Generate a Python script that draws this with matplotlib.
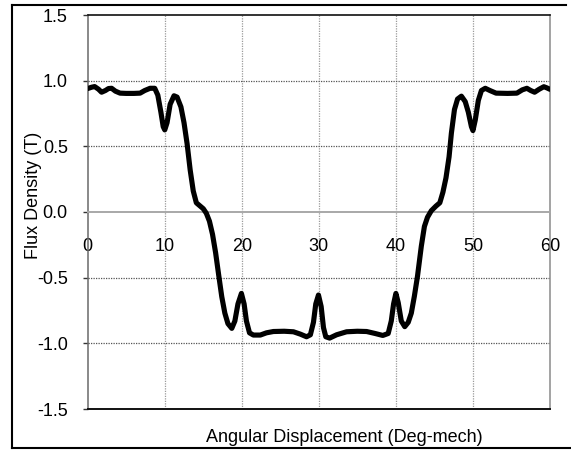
import matplotlib
matplotlib.use("Agg")
import matplotlib.pyplot as plt
from matplotlib.lines import Line2D

plt.rcParams['font.family'] = ['Liberation Sans', 'DejaVu Sans']

angle_deg = [0.0, 0.5, 0.9, 1.4, 1.8, 2.3, 2.7, 3.1, 3.6, 4.2, 5.0, 6.0, 6.8, 7.4, 8.1, 8.7,
             9.1, 9.5, 9.8, 10.0, 10.3, 10.7, 11.2, 11.6, 12.1, 12.5, 12.9, 13.3, 13.7, 14.1,
             14.6, 15.0, 15.4, 15.8, 16.2, 16.6, 17.0, 17.4, 17.8, 18.2, 18.7, 19.1, 19.5,
             19.95, 20.3, 20.6, 21.0, 21.5, 22.4, 23.2, 24.1, 25.5, 26.7, 27.6, 28.4, 28.9,
             29.3, 29.6, 29.95, 30.3, 30.6, 30.9, 31.4, 32.3, 33.6, 35.0, 36.2, 37.3, 38.3,
             39.0, 39.4, 39.7, 40.0, 40.3, 40.7, 41.15, 41.6, 42.0, 42.4, 42.8, 43.3, 43.7,
             44.1, 44.6, 45.2, 45.7, 46.1, 46.5, 46.9, 47.2, 47.6, 48.0, 48.5, 49.0, 49.4,
             49.8, 50.0, 50.3, 50.7, 51.1, 51.6, 52.2, 53.0, 54.5, 55.7, 56.4, 57.0, 57.5,
             58.0, 58.6, 59.2, 59.6, 60.0]
flux_T = [0.940, 0.950, 0.955, 0.935, 0.912, 0.925, 0.940, 0.942, 0.920, 0.905, 0.903, 0.903,
          0.905, 0.925, 0.942, 0.942, 0.890, 0.760, 0.650, 0.625, 0.680, 0.820, 0.885, 0.875,
          0.800, 0.680, 0.520, 0.320, 0.160, 0.070, 0.045, 0.025, -0.010, -0.070, -0.170,
          -0.310, -0.480, -0.645, -0.770, -0.850, -0.886, -0.830, -0.700, -0.620, -0.700,
          -0.830, -0.920, -0.937, -0.937, -0.920, -0.910, -0.908, -0.912, -0.930, -0.950,
          -0.935, -0.840, -0.700, -0.632, -0.720, -0.880, -0.950, -0.960, -0.935, -0.912,
          -0.908, -0.910, -0.925, -0.940, -0.925, -0.830, -0.700, -0.620, -0.690, -0.830,
          -0.873, -0.840, -0.770, -0.640, -0.490, -0.260, -0.110, -0.040, 0.010, 0.045, 0.070,
          0.150, 0.260, 0.420, 0.600, 0.780, 0.860, 0.882, 0.840, 0.760, 0.650, 0.620, 0.700,
          0.850, 0.925, 0.942, 0.925, 0.905, 0.903, 0.905, 0.930, 0.942, 0.925, 0.912, 0.935,
          0.954, 0.945, 0.934]

x_ticks = [0, 10, 20, 30, 40, 50, 60]
y_ticks = [-1.5, -1.0, -0.5, 0.0, 0.5, 1.0, 1.5]
y_tick_labels = ["-1.5", "-1.0", "-0.5", "0.0", "0.5", "1.0", "1.5"]

W, H = 571, 450
FS = 13
fig = plt.figure(figsize=(W / 100, H / 100), dpi=100)
ax = fig.add_axes([87.7 / W, 1 - 409 / H, (550 - 87.7) / W, (409 - 15) / H])

ax.set_xlim(0, 60)
ax.set_ylim(-1.5, 1.5)

# grid
for xv in x_ticks[1:-1]:
    ax.axvline(xv, color='#9a9a9a', lw=0.9, ls=(0, (1, 1)), zorder=1)
for yv in [-1.0, -0.5, 0.5, 1.0]:
    ax.axhline(yv, color='#555555', lw=0.9, ls=(0, (1, 1)), zorder=1)

ax.plot(angle_deg, flux_T, color='black', lw=3.7, solid_joinstyle='round',
        solid_capstyle='round', zorder=3)

# spines
ax.spines['bottom'].set_position(('data', 0))
ax.spines['bottom'].set_color('#a8a8a8')
ax.spines['bottom'].set_linewidth(1.4)
ax.spines['top'].set_color('#111111')
ax.spines['top'].set_linewidth(1.2)
ax.spines['left'].set_color('#6a6a6a')
ax.spines['left'].set_linewidth(1.1)
ax.spines['right'].set_color('#8a8a8a')
ax.spines['right'].set_linewidth(1.1)
ax.axhline(-1.5, color='#111111', lw=1.4, zorder=4, clip_on=False)

ax.set_xticks(x_ticks)
ax.set_xticklabels([str(v) for v in x_ticks])
ax.tick_params(axis='x', length=0, pad=18.5, labelsize=FS, colors='black')
ax.set_yticks(y_ticks)
ax.set_yticklabels(y_tick_labels)
ax.tick_params(axis='y', direction='out', length=3.8, width=1.0, color='#333333',
               pad=10.5, labelsize=FS, labelcolor='black')

fig.text(33 / W, 1 - 195 / H, "Flux Density (T)", rotation=90, ha='center', va='center',
         fontsize=FS)
fig.text(344 / W, 1 - 438 / H, "Angular Displacement (Deg-mech)", ha='center', va='center',
         fontsize=FS)

# outer frame
fig.add_artist(Line2D([12 / W, 565.5 / W], [1 - 5 / H, 1 - 5 / H], color='black', lw=1.5,
                      transform=fig.transFigure))
fig.add_artist(Line2D([12 / W, 12 / W], [1 - 5 / H, 1 - 447.5 / H], color='black', lw=1.5,
                      transform=fig.transFigure))
fig.add_artist(Line2D([12 / W, 1.0], [1 - 447.5 / H, 1 - 447.5 / H], color='black', lw=1.5,
                      transform=fig.transFigure))

fig.savefig("out.png", dpi=100)
